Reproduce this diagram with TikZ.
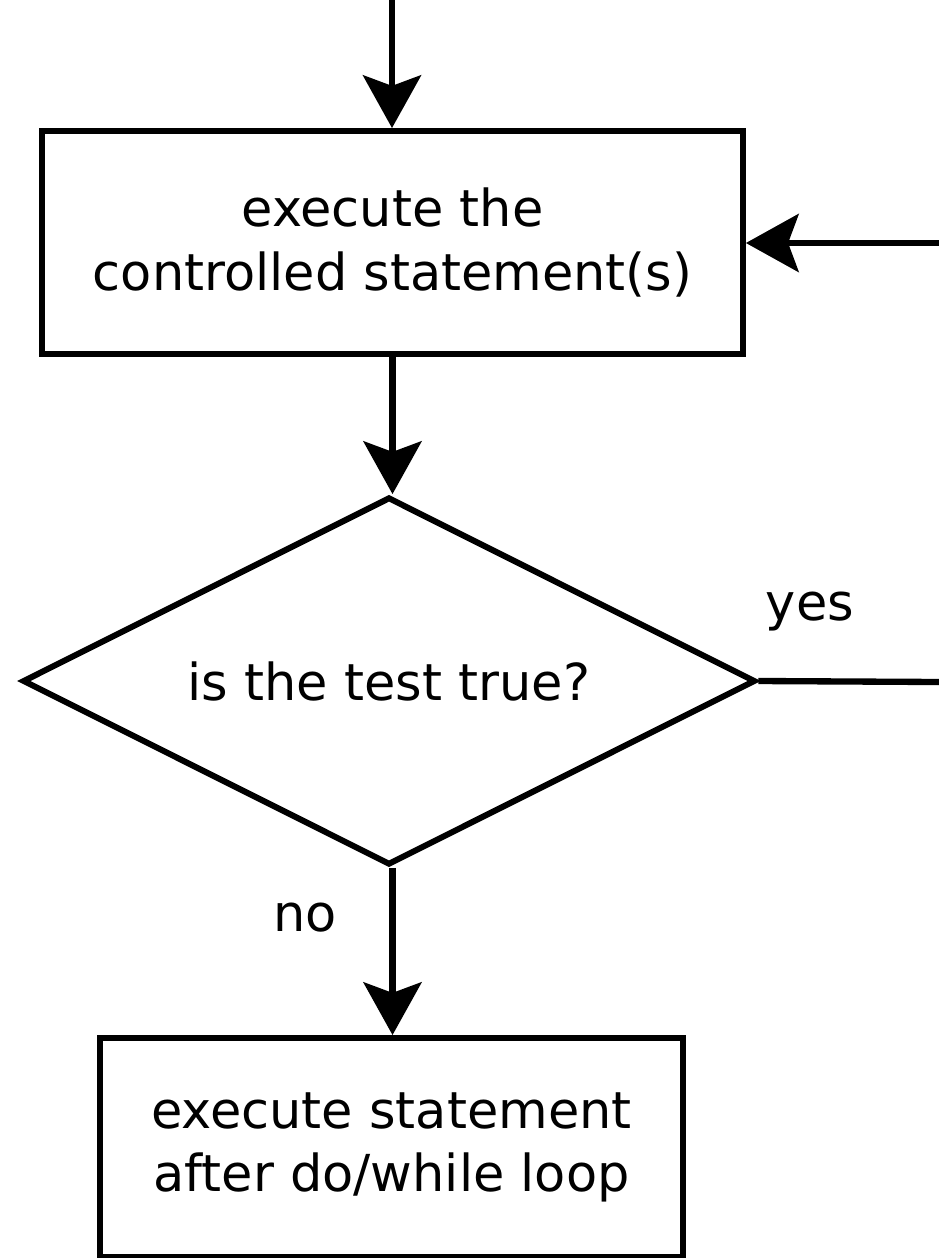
\documentclass[tikz,border=0pt]{standalone}
\usepackage{fontspec}
\setmainfont{DejaVu Sans}
\usetikzlibrary{shapes.geometric,arrows.meta}
\begin{document}
\begin{tikzpicture}[x=0.02cm,y=-0.02cm,
  flow/.style={line width=3.6pt,-{Stealth[length=30pt,width=33pt,inset=6pt]}},
  stmt/.style={draw,line width=3.4pt,align=center,font=\fontsize{29}{36}\selectfont},
  test/.style={draw,diamond,aspect=2,line width=3.4pt,inner sep=0pt,font=\fontsize{29}{36}\selectfont},
  lbl/.style={font=\fontsize{29}{36}\selectfont}]
\useasboundingbox (0,0) rectangle (939,1258);

% objects of the do/while loop:
\coordinate (start) at (392,0);
\coordinate (back) at (939,243);
\coordinate (yesend) at (939,682);
\node[stmt,minimum width=14.02cm,minimum height=4.46cm] (body) at (392.5,242.5) {execute the\\controlled statement(s)};
\node[test,minimum width=14.66cm,minimum height=7.36cm] (cond) at (389,681) {is the test true?};
\node[stmt,minimum width=11.66cm,minimum height=4.38cm] (after) at (391.5,1147.5) {execute statement\\after do/while loop};
\node[lbl] (yes) at (810,612) {yes};
\node[lbl] (no) at (305,918) {no};

\draw[flow] (start) -- (start |- body.north);
\draw[flow] (body.south) -- (body.south |- cond.north);
\draw[flow] (body.south |- cond.south) -- (body.south |- after.north);
\draw[line width=3.6pt] (cond.east) -- (yesend);
\draw[flow] (back) -- (back -| body.east);

\end{tikzpicture}
\end{document}
